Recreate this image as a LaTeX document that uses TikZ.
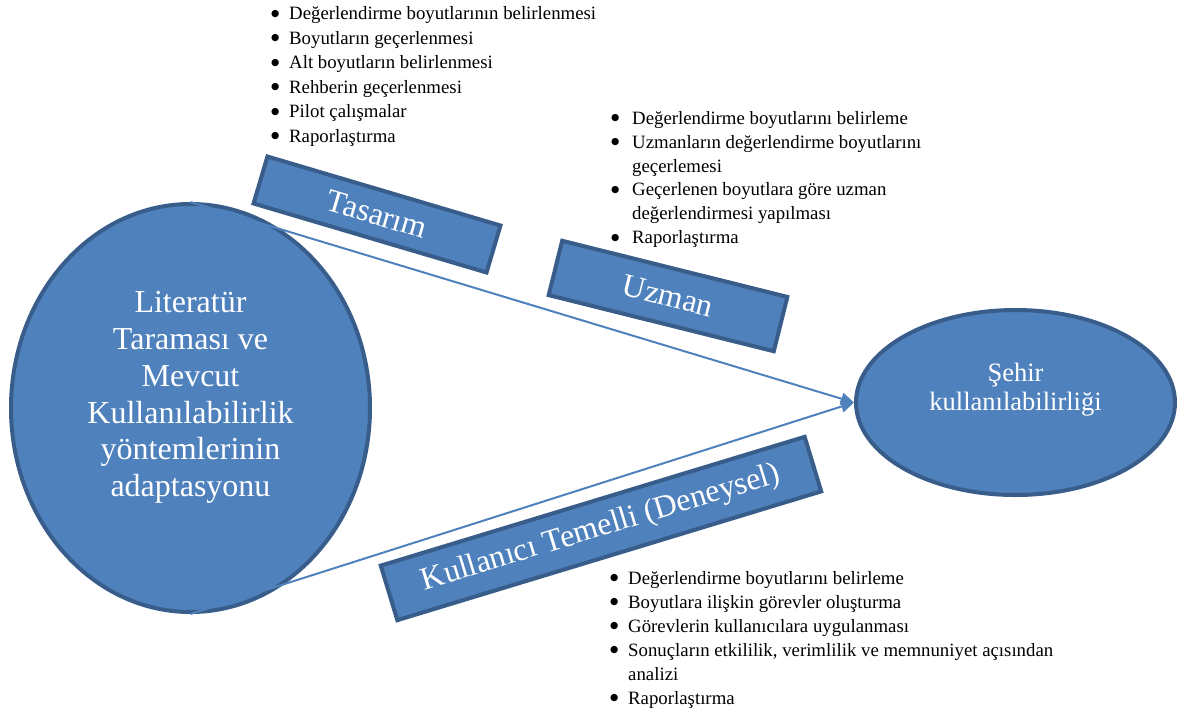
\documentclass[tikz,border=0pt]{standalone}
\usepackage{fontspec}
\setmainfont{Liberation Serif}
\newfontfamily\bulletfont{DejaVu Sans}
\newcommand{\blt}{\raisebox{3.6pt}{\bulletfont\fontsize{9.5}{9.5}\selectfont ●}}
\usetikzlibrary{shapes.geometric,arrows.meta}
\definecolor{fillblue}{HTML}{4F81BD}
\definecolor{edgeblue}{HTML}{385D8A}
\begin{document}
\begin{tikzpicture}[x=1pt,y=-1pt,
  blob/.style={ellipse, draw=edgeblue, fill=fillblue, line width=4pt, text=white, align=center, inner sep=0pt},
  phase/.style={rectangle, draw=edgeblue, fill=fillblue, line width=4pt, text=white, inner sep=0pt, font=\fontsize{32}{36}\selectfont},
  flow/.style={draw=fillblue, line width=2pt, -{Triangle[length=13pt,width=12pt]}},
  itemlist/.style={anchor=north west, inner sep=0pt, align=left}
]
\useasboundingbox (0,0) rectangle (1178,710);

% ellipses
\node[blob, minimum width=359pt, minimum height=408pt, font=\fontsize{32}{36.8}\selectfont, text depth=28pt] (lit) at (190.5,408)
  {Literatür\\Taraması ve\\Mevcut\\Kullanılabilirlik\\yöntemlerinin\\adaptasyonu};
\node[blob, minimum width=319pt, minimum height=185pt, font=\fontsize{26.5}{29.5}\selectfont, text depth=31pt] (sehir) at (1015.5,402.5)
  {Şehir\\kullanılabilirliği};

% connectors
\draw[flow] (lit.north) -- (sehir.west);
\draw[flow] (lit.south) -- (sehir.west);

% phase boxes
\node[phase, minimum width=243pt, minimum height=49pt, rotate=-16.5] (tasarim) at (377,214.5) {Tasarım};
\node[phase, minimum width=232pt, minimum height=56pt, rotate=-14] (uzman) at (668,296) {Uzman};
\node[phase, minimum width=443pt, minimum height=57pt, rotate=16.9] (kullanici) at (601,528.5) {Kullanıcı Temelli (Deneysel)};

% lists
\node[itemlist, font=\fontsize{18.8}{24.5}\selectfont] (tasarimlist) at (271,2.4)
  {\begin{tabular}{@{}p{18pt}@{}l@{}}
  \blt & Değerlendirme boyutlarının belirlenmesi\\
  \blt & Boyutların geçerlenmesi\\
  \blt & Alt boyutların belirlenmesi\\
  \blt & Rehberin geçerlenmesi\\
  \blt & Pilot çalışmalar\\
  \blt & Raporlaştırma
  \end{tabular}};
\node[itemlist, font=\fontsize{18.8}{23.9}\selectfont] (uzmanlist) at (611,107.3)
  {\begin{tabular}{@{}p{21pt}@{}l@{}}
  \blt & Değerlendirme boyutlarını belirleme\\
  \blt & Uzmanların değerlendirme boyutlarını\\
    & geçerlemesi\\
  \blt & Geçerlenen boyutlara göre uzman\\
    & değerlendirmesi yapılması\\
  \blt & Raporlaştırma
  \end{tabular}};
\node[itemlist, font=\fontsize{18.8}{24}\selectfont] (kullanicilist) at (610,567.2)
  {\begin{tabular}{@{}p{18pt}@{}l@{}}
  \blt & Değerlendirme boyutlarını belirleme\\
  \blt & Boyutlara ilişkin görevler oluşturma\\
  \blt & Görevlerin kullanıcılara uygulanması\\
  \blt & Sonuçların etkililik, verimlilik ve memnuniyet açısından\\
    & analizi\\
  \blt & Raporlaştırma
  \end{tabular}};
\end{tikzpicture}
\end{document}
